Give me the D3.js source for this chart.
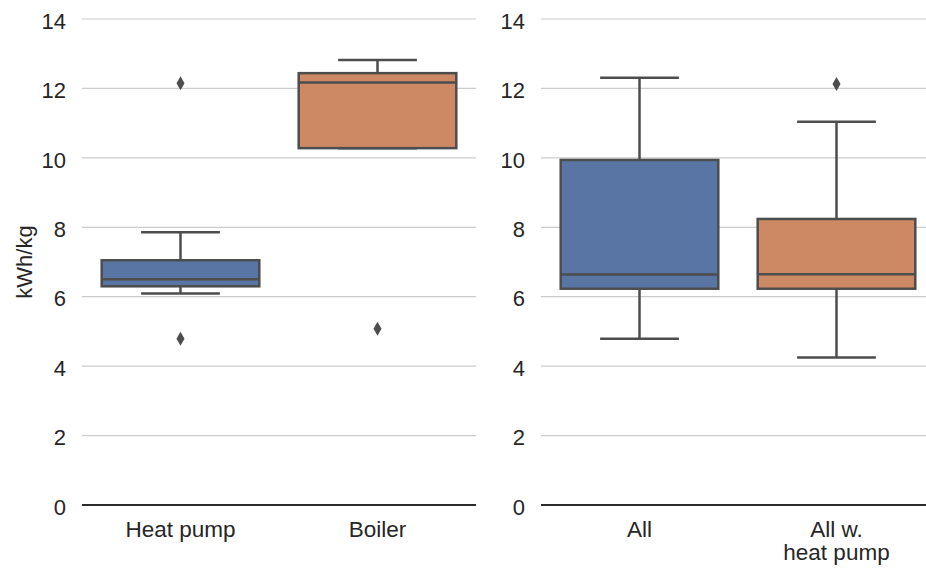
<!DOCTYPE html>
<html>
<head>
<meta charset="utf-8">
<script src="https://cdn.jsdelivr.net/npm/d3@7"></script>
<style>
  body { margin: 0; background: #fff; }
  text { font-family: "Liberation Sans", Arial, sans-serif; fill: #262626; }
</style>
</head>
<body>
<div id="chart"></div>
<script>
const width = 926;
const height = 569;

// Data
const leftCategories = ["Heat pump", "Boiler"];
const rightCategories = ["All", "All w.\nheat pump"];
const whiskerLow = [6.09, 10.28, 4.79, 4.25];
const q1 = [6.30, 10.28, 6.23, 6.23];
const median = [6.50, 12.17, 6.64, 6.65];
const q3 = [7.05, 12.44, 9.94, 8.24];
const whiskerHigh = [7.86, 12.82, 12.31, 11.04];
const outliers = [[12.15, 4.79], [5.08], [], [12.13]];
const yTicks = [0, 2, 4, 6, 8, 10, 12, 14];
const colors = ["#5875a4", "#cc8963"];

const svg = d3.select("#chart")
    .append("svg")
    .attr("width", width)
    .attr("height", height);

const y = d3.scaleLinear()
    .domain([0, 14])
    .range([505, 19]);

const panels = [
    { cats: leftCategories, offset: 0, range: [82, 476] },
    { cats: rightCategories, offset: 2, range: [541, 935] }
];

panels.forEach(p => {
    const x = d3.scaleBand()
        .domain(p.cats)
        .range(p.range)
        .paddingInner(0)
        .paddingOuter(0);

    const g = svg.append("g");

    // gridlines + y tick labels
    const yAxis = d3.axisLeft(y).tickValues(yTicks).tickSize(0).tickPadding(16);
    const ya = g.append("g")
        .attr("transform", `translate(${p.range[0]},0)`)
        .call(yAxis);
    ya.select(".domain").remove();
    ya.selectAll("text")
        .style("font-size", "22px")
        .attr("dy", "0.42em");

    g.append("g")
        .selectAll("line")
        .data(yTicks.filter(t => t > 0))
        .join("line")
        .attr("x1", p.range[0])
        .attr("x2", p.range[1])
        .attr("y1", d => y(d))
        .attr("y2", d => y(d))
        .attr("stroke", "#cccccc")
        .attr("stroke-width", 1.2);

    // baseline
    g.append("line")
        .attr("x1", p.range[0])
        .attr("x2", p.range[1])
        .attr("y1", y(0))
        .attr("y2", y(0))
        .attr("stroke", "#2b2b2b")
        .attr("stroke-width", 2);

    const boxW = x.bandwidth() * 0.8;
    const capW = boxW / 2;

    p.cats.forEach((c, j) => {
        const i = p.offset + j;
        const cx = x(c) + x.bandwidth() / 2;
        const stroke = "#4d4d4d";
        const sw = 2.5;
        const bg = g.append("g");

        // whiskers
        bg.append("line")
            .attr("x1", cx).attr("x2", cx)
            .attr("y1", y(q3[i])).attr("y2", y(whiskerHigh[i]))
            .attr("stroke", stroke).attr("stroke-width", sw);
        bg.append("line")
            .attr("x1", cx).attr("x2", cx)
            .attr("y1", y(q1[i])).attr("y2", y(whiskerLow[i]))
            .attr("stroke", stroke).attr("stroke-width", sw);
        [whiskerHigh[i], whiskerLow[i]].forEach(v => {
            bg.append("line")
                .attr("x1", cx - capW / 2).attr("x2", cx + capW / 2)
                .attr("y1", y(v)).attr("y2", y(v))
                .attr("stroke", stroke).attr("stroke-width", sw);
        });

        // box
        bg.append("rect")
            .attr("x", cx - boxW / 2)
            .attr("y", y(q3[i]))
            .attr("width", boxW)
            .attr("height", y(q1[i]) - y(q3[i]))
            .attr("fill", colors[j])
            .attr("stroke", stroke)
            .attr("stroke-width", sw);

        // median
        bg.append("line")
            .attr("x1", cx - boxW / 2).attr("x2", cx + boxW / 2)
            .attr("y1", y(median[i])).attr("y2", y(median[i]))
            .attr("stroke", stroke).attr("stroke-width", sw);

        // outliers (diamonds)
        bg.selectAll("path.out")
            .data(outliers[i])
            .join("path")
            .attr("class", "out")
            .attr("d", d => {
                const py = y(d);
                return `M${cx},${py - 7}L${cx + 4},${py}L${cx},${py + 7}L${cx - 4},${py}Z`;
            })
            .attr("fill", stroke);

        // x tick label
        const lines = c.split("\n");
        const t = g.append("text")
            .attr("x", cx)
            .attr("y", 537)
            .attr("text-anchor", "middle")
            .style("font-size", "22.5px");
        lines.forEach((l, k) => {
            t.append("tspan")
                .attr("x", cx)
                .attr("dy", k === 0 ? 0 : 23)
                .text(l);
        });
    });
});

// y axis label
svg.append("text")
    .attr("transform", `translate(32, ${y(7)}) rotate(-90)`)
    .attr("text-anchor", "middle")
    .style("font-size", "22px")
    .text("kWh/kg");
</script>
</body>
</html>
